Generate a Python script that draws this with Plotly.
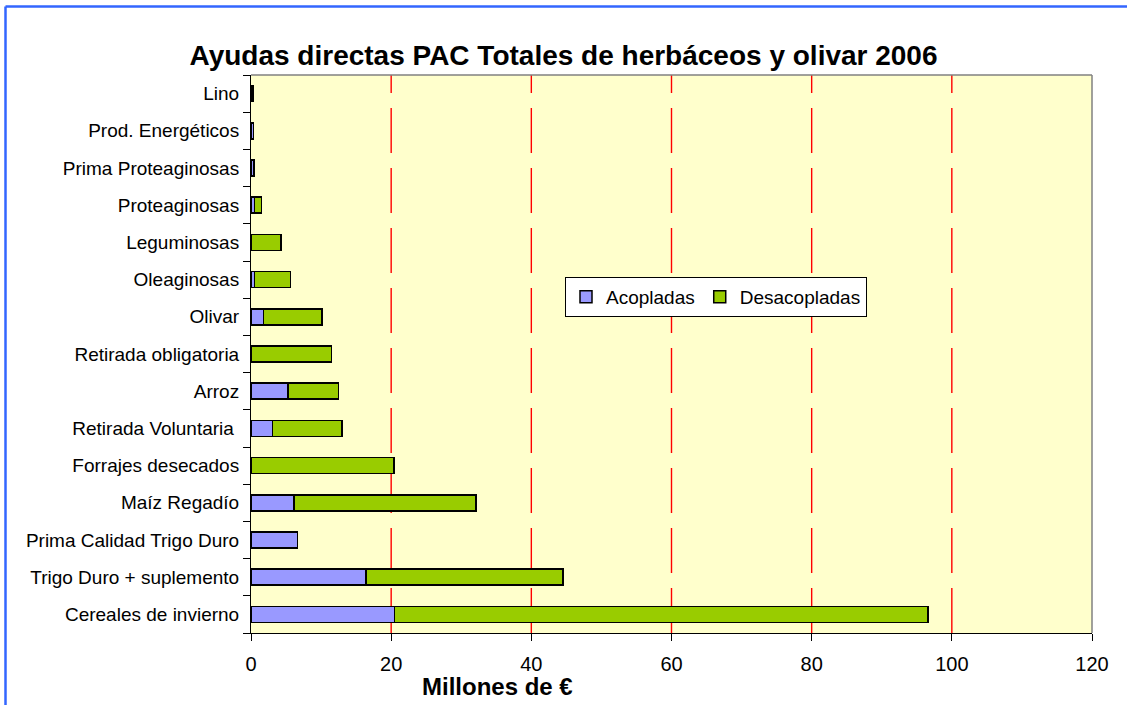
import plotly.graph_objects as go

categories = ["Cereales de invierno", "Trigo Duro + suplemento", "Prima Calidad Trigo Duro",
              "Maíz Regadío", "Forrajes desecados", "Retirada Voluntaria ", "Arroz",
              "Retirada obligatoria", "Olivar", "Oleaginosas", "Leguminosas",
              "Proteaginosas", "Prima Proteaginosas", "Prod. Energéticos", "Lino"]
acopladas = [20.5, 16.4, 6.6, 6.1, None, 3.1, 5.3, None, 1.8, 0.5, None, 0.5, 0.45, 0.35, None]
desacopladas = [76.1, 28.1, None, 26.0, 20.4, 9.9, 7.2, 11.5, 8.3, 5.1, 4.3, 1.0, None, None, 0.3]
x_ticks = [0, 20, 40, 60, 80, 100, 120]
x_title = "Millones de €"

FONT = "Arial, Liberation Sans, sans-serif"

fig = go.Figure()
fig.add_trace(go.Bar(y=categories, x=acopladas, orientation="h", name="Acopladas",
                     marker=dict(color="#9999FF", line=dict(color="black", width=1.5))))
fig.add_trace(go.Bar(y=categories, x=desacopladas, orientation="h", name="Desacopladas",
                     marker=dict(color="#99CC00", line=dict(color="black", width=1.5))))

L, R, T, B = 251, 35, 75, 72
W, H = 1127, 705
pw, ph = W - L - R, H - T - B

def px(x):
    return (x - L) / pw

def py(y):
    return (H - B - y) / ph

shapes = []
# red dashed vertical gridlines at the inner ticks
for v in x_ticks[1:-1]:
    shapes.append(dict(type="line", xref="x", yref="paper", x0=v, x1=v, y0=0, y1=1,
                       line=dict(color="#FF0000", width=1.4, dash="45px,15px"), layer="below"))
shapes += [
    dict(type="line", xref="paper", yref="paper", x0=0, x1=1, y0=1, y1=1,
         line=dict(color="#808080", width=1.5), layer="above"),
    dict(type="line", xref="paper", yref="paper", x0=1, x1=1, y0=0, y1=1,
         line=dict(color="#808080", width=1.5), layer="above"),
    dict(type="line", xref="paper", yref="paper", x0=px(5.5), x1=px(1127),
         y0=py(6.5), y1=py(6.5), line=dict(color="#3366FF", width=2.5)),
    dict(type="line", xref="paper", yref="paper", x0=px(5.5), x1=px(5.5),
         y0=py(6.5), y1=py(705), line=dict(color="#3366FF", width=2.5)),
]

fig.update_layout(
    width=W, height=H,
    margin=dict(l=L, r=R, t=T, b=B, autoexpand=False),
    barmode="stack",
    bargap=0.57,
    paper_bgcolor="white",
    plot_bgcolor="#FFFFCC",
    font=dict(family=FONT, color="black", size=18),
    title=dict(text="<b>Ayudas directas PAC Totales de herbáceos y olivar 2006</b>",
               x=0.5, xref="container", xanchor="center", y=1 - 55 / H, yanchor="middle",
               font=dict(size=28, family=FONT, color="black")),
    xaxis=dict(range=[0, 120], tickvals=x_ticks, ticks="outside", ticklen=7,
               tickcolor="black", showline=True, linecolor="black", linewidth=1,
               showgrid=False, zeroline=False, tickfont=dict(size=20), ticklabelstandoff=6,
               automargin=False),
    yaxis=dict(type="category", categoryorder="array", categoryarray=categories,
               ticks="outside", ticklen=7, tickcolor="black", tickson="boundaries",
               showline=True, linecolor="black", linewidth=1, showgrid=False,
               tickfont=dict(size=19), ticklabelstandoff=7, automargin=False),
    legend=dict(orientation="h", x=px(565), y=py(277), xanchor="left", yanchor="top",
                bgcolor="white", bordercolor="black", borderwidth=1,
                font=dict(size=19), traceorder="normal", itemwidth=30,
                tracegroupgap=0),
    showlegend=True,
    shapes=shapes,
    annotations=[dict(text="<b>" + x_title + "</b>", xref="paper", yref="paper",
                      x=px(497), y=py(686), xanchor="center", yanchor="middle",
                      showarrow=False, font=dict(size=24))],
)

fig.write_html("out.html", config={"displayModeBar": False},
               post_script="document.body.style.margin='0';")
